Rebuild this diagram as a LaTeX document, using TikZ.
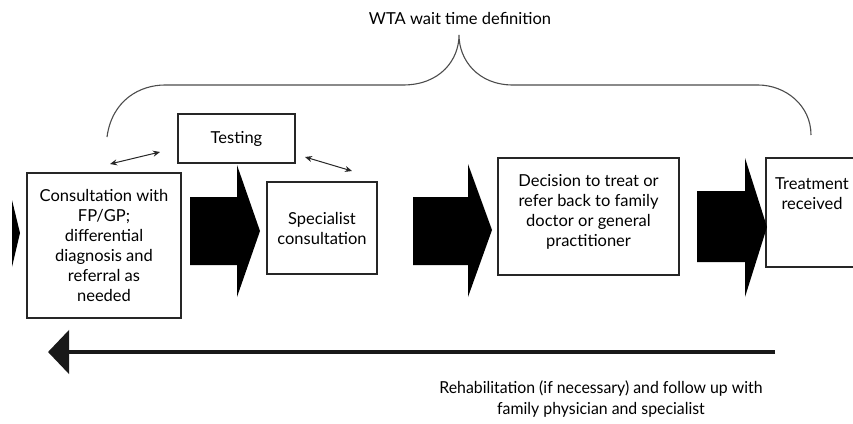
\documentclass[tikz,border=0pt]{standalone}
\usepackage{fontspec}
\setmainfont{Lato}
\usetikzlibrary{arrows.meta}
\begin{document}
\begin{tikzpicture}[x=1pt,y=-1pt,
  box/.style={draw=black!85, line width=1.3pt, align=center, inner sep=0pt,
    font=\fontsize{16.5}{20}\selectfont},
  txt/.style={align=center, inner sep=0pt, font=\fontsize{16.5}{20}\selectfont},
  blockarrow/.style={fill=black, draw=none},
  dbl/.style={{Stealth[length=7pt,width=6pt]}-{Stealth[length=7pt,width=6pt]}, line width=1pt, black!85},
  brace/.style={draw=black!70, line width=1.1pt},
  back/.style={line width=4.5pt, black!90, -{Triangle[length=21pt,width=43pt]}}]
\useasboundingbox (0,0) rectangle (853,423);
% title
\node[txt] (title) at (460,18) {WTA wait time definition};
% brace
\draw[brace] (107,137) .. controls (112,100) and (140,85) .. (165,85) -- (403,85)
  .. controls (440,85) and (459,60) .. (459,35)
  .. controls (459,60) and (478,85) .. (513,85) -- (758,85)
  .. controls (785,85) and (811,105) .. (811,135);
% boxes
\node[box, minimum width=154pt, minimum height=145pt] (consult) at (104,245.5)
  {Consultation with\\FP/GP;\\differential\\diagnosis and\\referral as\\needed};
\node[box, minimum width=117pt, minimum height=49pt] (testing) at (236.5,138.5) {Testing};
\node[box, minimum width=110pt, minimum height=92pt] (spec) at (322,228) {Specialist\\consultation};
\node[box, minimum width=181pt, minimum height=117pt] (decide) at (588.5,216.5) {};
\node[txt] (decidetxt) at (588.5,212) {Decision to treat or\\refer back to family\\doctor or general\\practitioner};
\node[box, minimum width=92pt, minimum height=109pt] (treat) at (812,212.5) {};
\node[txt, anchor=north] (treattxt) at ([yshift=-20pt]treat.north) {Treatment\\received};
% block arrows
\fill[blockarrow] (12,200) -- (20,233) -- (12,267) -- cycle;
\fill[blockarrow] (190,197) -- (237,197) -- (237,165) -- (260,231) -- (237,297) -- (237,265) -- (190,265) -- cycle;
\fill[blockarrow] (413,197) -- (468,197) -- (468,164) -- (492,230) -- (468,297) -- (468,265) -- (413,265) -- cycle;
\fill[blockarrow] (697,191) -- (745,191) -- (745,158) -- (767,227) -- (745,297) -- (745,262) -- (697,262) -- cycle;
% double arrows
\coordinate (a1) at (110,164);
\coordinate (a2) at (160,152);
\coordinate (b1) at (305,157);
\coordinate (b2) at (352,171);
\draw[dbl] (a1) -- (a2);
\draw[dbl] (b1) -- (b2);
% back arrow
\coordinate (r1) at (775,352);
\coordinate (r2) at (48,352);
\draw[back] (r1) -- (r2);
\node[txt, font=\fontsize{16.5}{21}\selectfont] (rehab) at (601,399)
  {\scalebox{0.96}[1]{Rehabilitation (if necessary) and follow up with}\\\scalebox{0.96}[1]{family physician and specialist}};
\end{tikzpicture}
\end{document}
